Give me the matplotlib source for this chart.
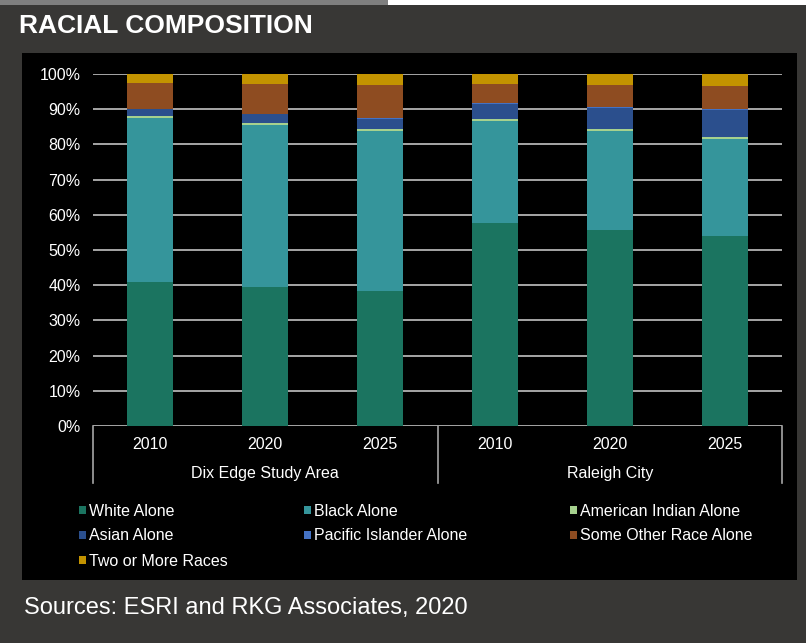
import matplotlib
matplotlib.use("Agg")
import matplotlib.pyplot as plt
from matplotlib.patches import Rectangle
from matplotlib.lines import Line2D
import numpy as np

plt.rcParams['font.family'] = ['Liberation Sans', 'DejaVu Sans']

years = ["2010", "2020", "2025", "2010", "2020", "2025"]
groups = ["Dix Edge Study Area", "Raleigh City"]
series_names = ["White Alone", "Black Alone", "American Indian Alone", "Asian Alone",
                "Pacific Islander Alone", "Some Other Race Alone", "Two or More Races"]
white = [41.0, 39.4, 38.4, 57.6, 55.7, 53.9]
black = [46.4, 46.0, 45.3, 29.1, 28.2, 27.7]
american_indian = [0.6, 0.6, 0.6, 0.6, 0.4, 0.5]
asian = [2.0, 2.6, 3.0, 4.3, 6.1, 7.8]
pacific = [0.05, 0.1, 0.1, 0.1, 0.1, 0.1]
other = [7.5, 8.4, 9.4, 5.6, 6.5, 6.5]
two_more = [2.45, 2.9, 3.2, 2.7, 3.0, 3.5]
series = [white, black, american_indian, asian, pacific, other, two_more]
colors = ["#1b7460", "#35959b", "#a6d18e", "#2b4f8d", "#4472c4", "#8e4c21", "#c39300"]

W, H = 806, 643
fig = plt.figure(figsize=(W / 100, H / 100), dpi=100)
fig.patch.set_facecolor("#383735")

def fx(px):
    return px / W

def fy(py):
    return 1 - py / H

# top strips
fig.add_artist(Rectangle((0, fy(5)), fx(388), 5 / H, transform=fig.transFigure,
                         facecolor="#7f7f7f", edgecolor="none"))
fig.add_artist(Rectangle((fx(388), fy(5)), 1 - fx(388), 5 / H, transform=fig.transFigure,
                         facecolor="white", edgecolor="none"))
# black panel
fig.add_artist(Rectangle((fx(22), fy(580)), fx(797 - 22), (580 - 53) / H,
                         transform=fig.transFigure, facecolor="black", edgecolor="none", zorder=0))

fig.text(fx(19), fy(26), "RACIAL COMPOSITION", color="white", fontsize=19,
         fontweight="bold", va="center", ha="left")
fig.text(fx(24), fy(608), "Sources: ESRI and RKG Associates, 2020", color="white",
         fontsize=17, va="center", ha="left")

ax = fig.add_axes([fx(93), fy(426), fx(782 - 93), (426 - 74) / H])
ax.set_facecolor("black")
x = np.arange(len(years))
bottom = np.zeros(len(years))
for vals, c, name in zip(series, colors, series_names):
    ax.bar(x, vals, width=0.4, bottom=bottom, color=c, label=name, zorder=3,
           edgecolor="none")
    bottom += np.array(vals)

ax.set_xlim(-0.5, len(years) - 0.5)
ax.set_ylim(0, 100)
ax.set_yticks(np.arange(0, 101, 10))
ax.set_yticklabels([f"{v}%" for v in range(0, 101, 10)], color="white", fontsize=11.5)
ax.tick_params(axis="y", length=0, pad=9)
ax.set_xticks([])
for s in ax.spines.values():
    s.set_visible(False)
ax.grid(axis="y", color="#a6a6a6", linewidth=1.4, zorder=0)
ax.set_axisbelow(True)

# multi-level category axis
for xv in [-0.5, 2.5, 5.5]:
    ax.add_line(Line2D([xv, xv], [0, -16.3], color="#a6a6a6", linewidth=1.2,
                       clip_on=False, transform=ax.transData))
for xi, yr in zip(x, years):
    ax.text(xi, -5.3, yr, color="white", fontsize=11.5, ha="center", va="center", clip_on=False)
ax.text(1, -13.6, groups[0], color="white", fontsize=11.5, ha="center", va="center", clip_on=False)
ax.text(4, -13.6, groups[1], color="white", fontsize=11.5, ha="center", va="center", clip_on=False)

# legend
leg_x = [79, 304, 570]
leg_y = [510, 535, 560]
for i, (name, c) in enumerate(zip(series_names, colors)):
    r, col = divmod(i, 3)
    px, py = leg_x[col], leg_y[r]
    fig.add_artist(Rectangle((fx(px), fy(py + 4)), fx(7), 8 / H, transform=fig.transFigure,
                             facecolor=c, edgecolor="none"))
    fig.text(fx(px + 10), fy(py + 1), name, color="white", fontsize=11.5, va="center", ha="left")

fig.savefig("out.png", dpi=100, facecolor=fig.get_facecolor())
